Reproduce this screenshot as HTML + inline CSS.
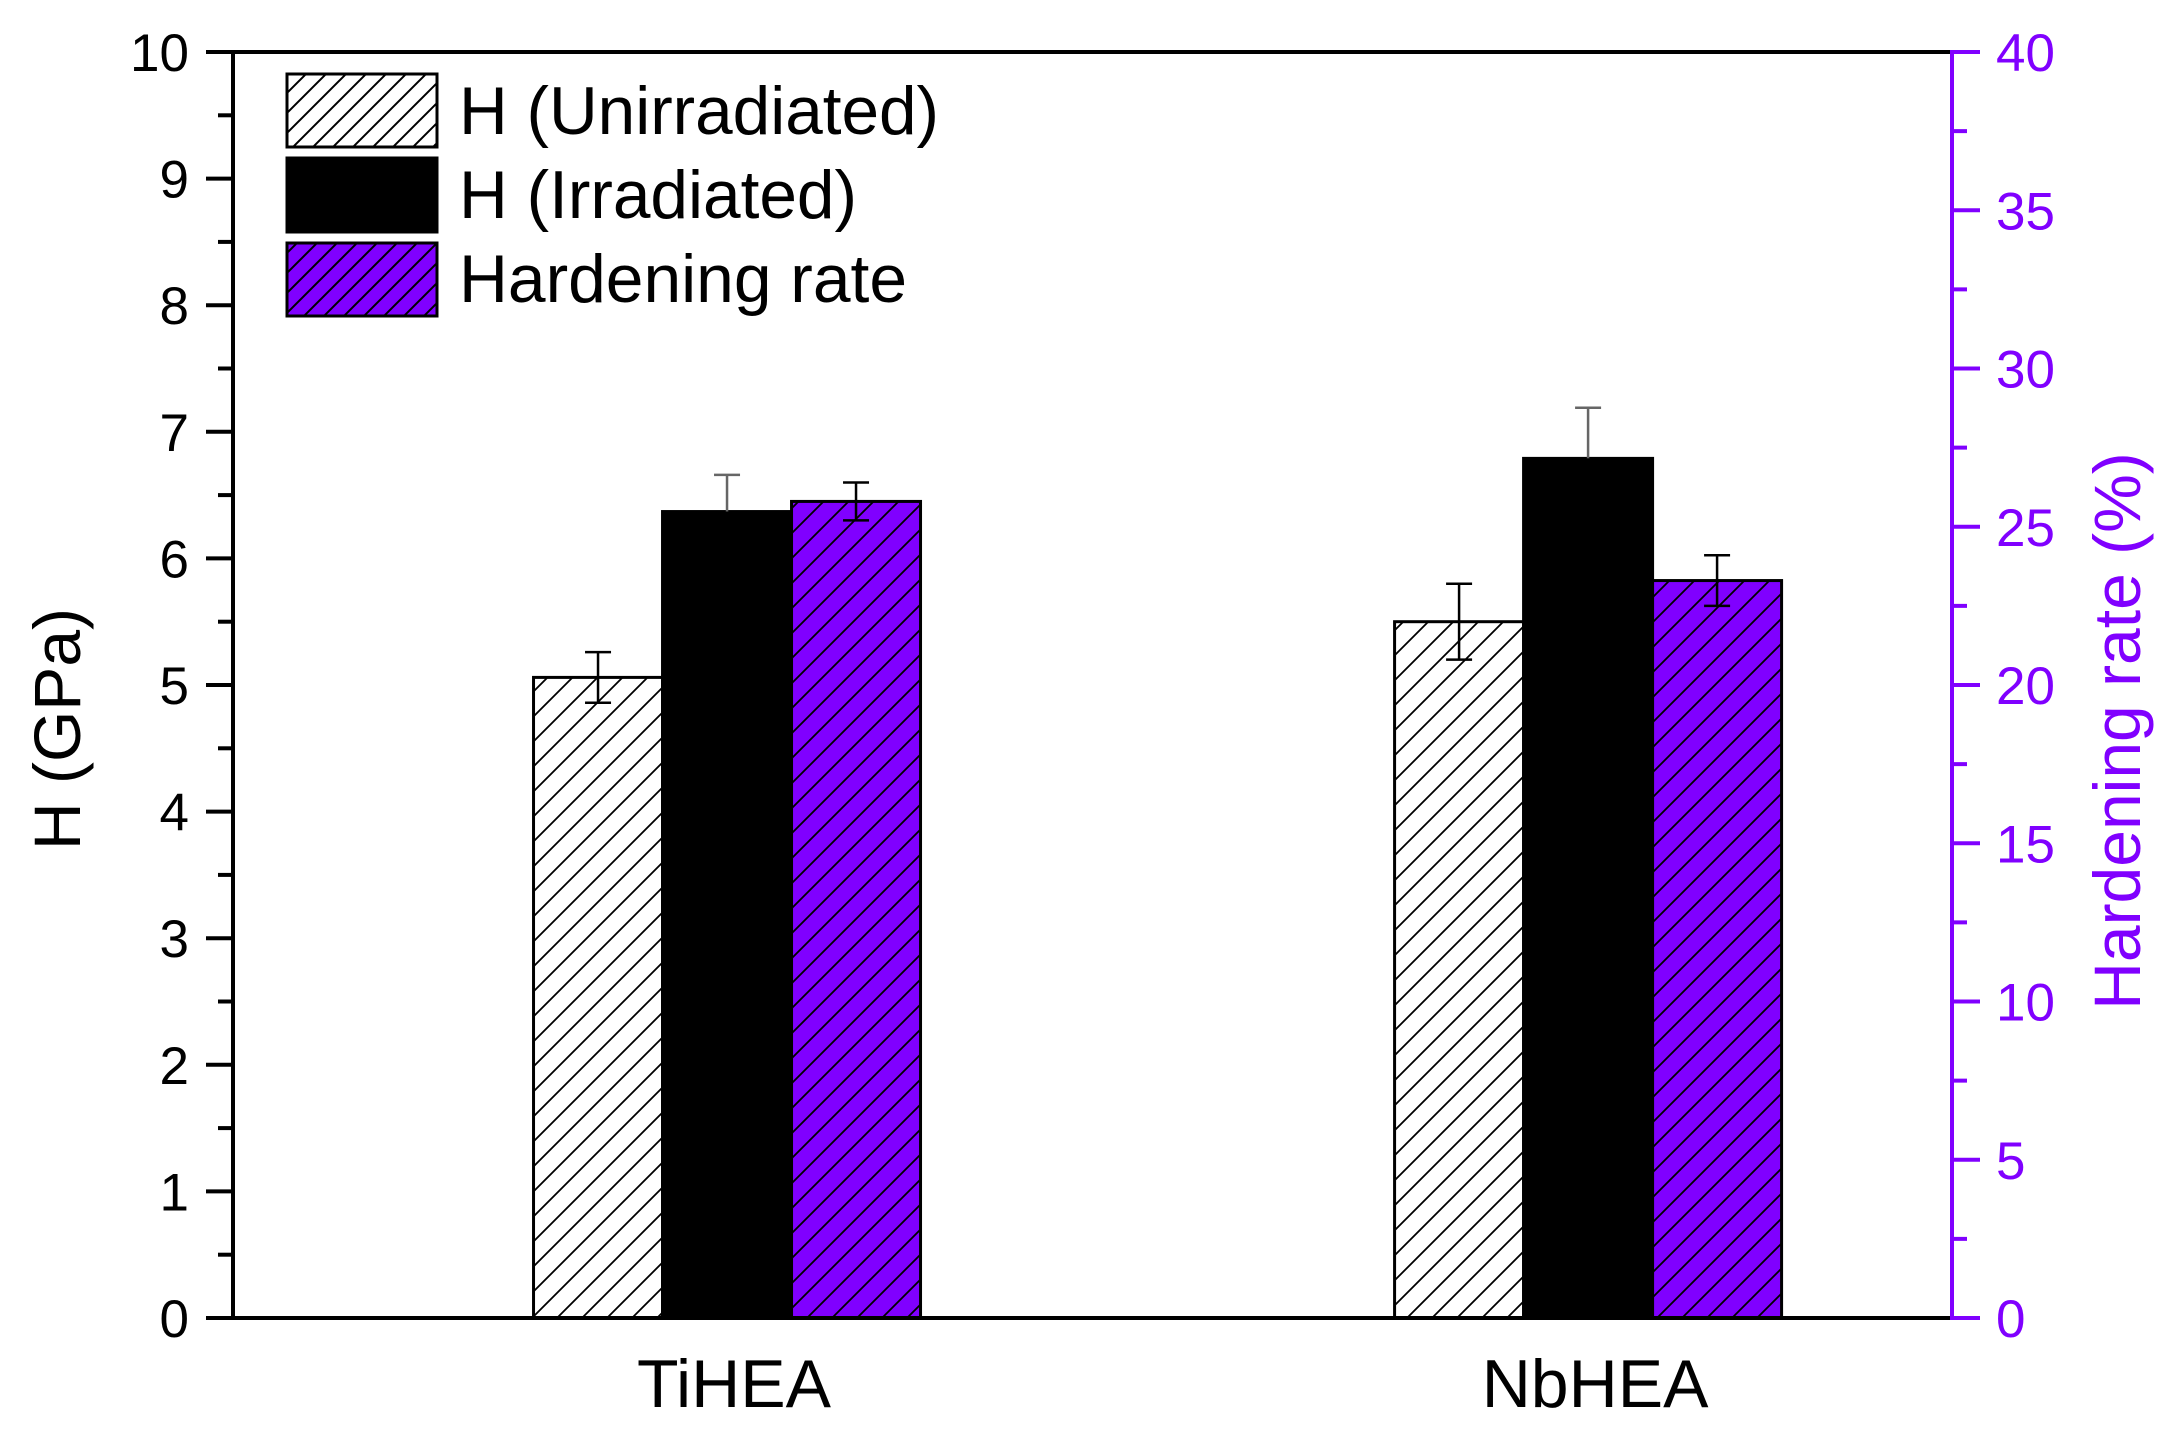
<!DOCTYPE html>
<html><head><meta charset="utf-8"><style>
html,body{margin:0;padding:0;background:#fff}
svg{display:block;font-family:"Liberation Sans",Arial,sans-serif}
</style></head><body>
<svg id="chart" width="2179" height="1437" viewBox="0 0 2179 1437" xmlns="http://www.w3.org/2000/svg">
<defs>
<pattern id="hatchW" patternUnits="userSpaceOnUse" width="25" height="25">
<rect width="25" height="25" fill="#fff"/>
<path d="M0,25 L25,0 M-5,5 L5,-5 M20,30 L30,20" stroke="#000" stroke-width="1.8"/>
</pattern>
<pattern id="hatchP" patternUnits="userSpaceOnUse" width="25" height="25">
<rect width="25" height="25" fill="#8000ff"/>
<path d="M0,25 L25,0 M-5,5 L5,-5 M20,30 L30,20" stroke="#000" stroke-width="1.8"/>
</pattern>
<pattern id="hatchWL" patternUnits="userSpaceOnUse" width="20" height="20">
<rect width="20" height="20" fill="#fff"/>
<path d="M0,20 L20,0 M-5,5 L5,-5 M15,25 L25,15" stroke="#000" stroke-width="2"/>
</pattern>
<pattern id="hatchPL" patternUnits="userSpaceOnUse" width="20" height="20">
<rect width="20" height="20" fill="#8000ff"/>
<path d="M0,20 L20,0 M-5,5 L5,-5 M15,25 L25,15" stroke="#000" stroke-width="2"/>
</pattern>
</defs>
<g id="bars"></g>
<g id="axes"></g>
<g id="legend">
<rect x="287" y="74" width="150" height="73" fill="url(#hatchWL)" stroke="#000" stroke-width="3"/>
<rect x="287" y="158" width="150" height="74" fill="#000" stroke="#000" stroke-width="3"/>
<rect x="287" y="243" width="150" height="73" fill="url(#hatchPL)" stroke="#000" stroke-width="3"/>
<text x="459" y="134" font-size="68" textLength="480" lengthAdjust="spacingAndGlyphs">H (Unirradiated)</text>
<text x="459" y="218" font-size="68" textLength="398" lengthAdjust="spacingAndGlyphs">H (Irradiated)</text>
<text x="459" y="302" font-size="68" textLength="448" lengthAdjust="spacingAndGlyphs">Hardening rate</text>
</g>
<text transform="translate(80,729) rotate(-90)" text-anchor="middle" font-size="66">H (GPa)</text>
<text transform="translate(2140,731) rotate(-90)" text-anchor="middle" font-size="66" fill="#8000ff">Hardening rate (%)</text>
</svg>
<script>
const categories = ["TiHEA", "NbHEA"];
const hUnirr = [5.06, 5.5];
const hUnirrErr = [0.2, 0.3];
const hIrr = [6.37, 6.79];
const hIrrErr = [0.29, 0.4];
const rate = [25.8, 23.3];
const rateErr = [0.6, 0.8];
const leftTicks = [0,1,2,3,4,5,6,7,8,9,10];
const rightTicks = [0,5,10,15,20,25,30,35,40];

const NS = "http://www.w3.org/2000/svg";
const X0 = 233, X1 = 1952, YT = 52, YB = 1318;
const xMin = 0.4216, xMax = 2.418;
const xs = v => X0 + (v - xMin) / (xMax - xMin) * (X1 - X0) - 4;
const yL = v => YB - v / 10 * (YB - YT);
const yR = v => YB - v / 40 * (YB - YT);
const BW = 129;

function mk(tag, attrs, parent) {
  const e = document.createElementNS(NS, tag);
  for (const k in attrs) e.setAttribute(k, attrs[k]);
  parent.appendChild(e);
  return e;
}
const bars = document.getElementById('bars');
const axes = document.getElementById('axes');

function errBar(cx, v, e, ys, color, lowColor, name) {
  const g = mk('g', {}, bars);
  
  
  mk('line', {x1: cx, x2: cx, y1: ys(v + e), y2: ys(v), stroke: color, 'stroke-width': 2.5}, g);
  mk('line', {x1: cx, x2: cx, y1: ys(v), y2: ys(v - e), stroke: lowColor, 'stroke-width': 2.5}, g);
  mk('line', {x1: cx - 13, x2: cx + 13, y1: ys(v + e), y2: ys(v + e), stroke: color, 'stroke-width': 2.5}, g);
  mk('line', {x1: cx - 13, x2: cx + 13, y1: ys(v - e), y2: ys(v - e), stroke: lowColor, 'stroke-width': 2.5}, g);
}

categories.forEach((c, i) => {
  const cx = xs(i + 1);
  const series = [
    {v: hUnirr[i], e: hUnirrErr[i], ys: yL, fill: 'url(#hatchW)', name: 'bar-unirradiated-' + c.toLowerCase(), ec: '#000', lc: '#000'},
    {v: hIrr[i], e: hIrrErr[i], ys: yL, fill: '#000', name: 'bar-irradiated-' + c.toLowerCase(), ec: '#666', lc: '#000'},
    {v: rate[i], e: rateErr[i], ys: yR, fill: 'url(#hatchP)', name: 'bar-hardening-rate-' + c.toLowerCase(), ec: '#000', lc: '#000'}
  ];
  series.forEach((s, j) => {
    const bx = cx + (j - 1.5) * BW;
    const r = mk('rect', {x: bx, y: s.ys(s.v), width: BW, height: YB - s.ys(s.v), fill: s.fill, stroke: '#000', 'stroke-width': 3}, bars);
    
    
  });
  series.forEach((s, j) => {
    const bx = cx + (j - 1.5) * BW;
    errBar(bx + BW / 2, s.v, s.e, s.ys, s.ec, s.lc, 'error-bar-' + s.name.replace('bar-', ''));
  });
  const t = mk('text', {x: cx + 7, y: 1407, 'text-anchor': 'middle', 'font-size': 68}, axes);
  t.textContent = c;
  
  
});

mk('line', {x1: X0, x2: X1, y1: YT, y2: YT, stroke: '#000', 'stroke-width': 4}, axes);
mk('line', {x1: X0, x2: X1, y1: YB, y2: YB, stroke: '#000', 'stroke-width': 4}, axes);
const la = mk('line', {x1: X0, x2: X0, y1: YT - 2, y2: YB + 2, stroke: '#000', 'stroke-width': 4}, axes);


const ra = mk('line', {x1: X1, x2: X1, y1: YT - 2, y2: YB + 2, stroke: '#8000ff', 'stroke-width': 4}, axes);



leftTicks.forEach((v, i) => {
  mk('line', {x1: X0 - 27, x2: X0, y1: yL(v), y2: yL(v), stroke: '#000', 'stroke-width': 4}, axes);
  if (i < leftTicks.length - 1) mk('line', {x1: X0 - 15, x2: X0, y1: yL(v + 0.5), y2: yL(v + 0.5), stroke: '#000', 'stroke-width': 4}, axes);
  const t = mk('text', {x: 189, y: yL(v) + 19, 'text-anchor': 'end', 'font-size': 53}, axes);
  t.textContent = v;
  
  
});
rightTicks.forEach((v, i) => {
  mk('line', {x1: X1, x2: X1 + 28, y1: yR(v), y2: yR(v), stroke: '#8000ff', 'stroke-width': 4}, axes);
  if (i < rightTicks.length - 1) mk('line', {x1: X1, x2: X1 + 15, y1: yR(v + 2.5), y2: yR(v + 2.5), stroke: '#8000ff', 'stroke-width': 4}, axes);
  const t = mk('text', {x: 1996, y: yR(v) + 19, 'text-anchor': 'start', 'font-size': 53, fill: '#8000ff'}, axes);
  t.textContent = v;
  
  
});
</script>
</body></html>
